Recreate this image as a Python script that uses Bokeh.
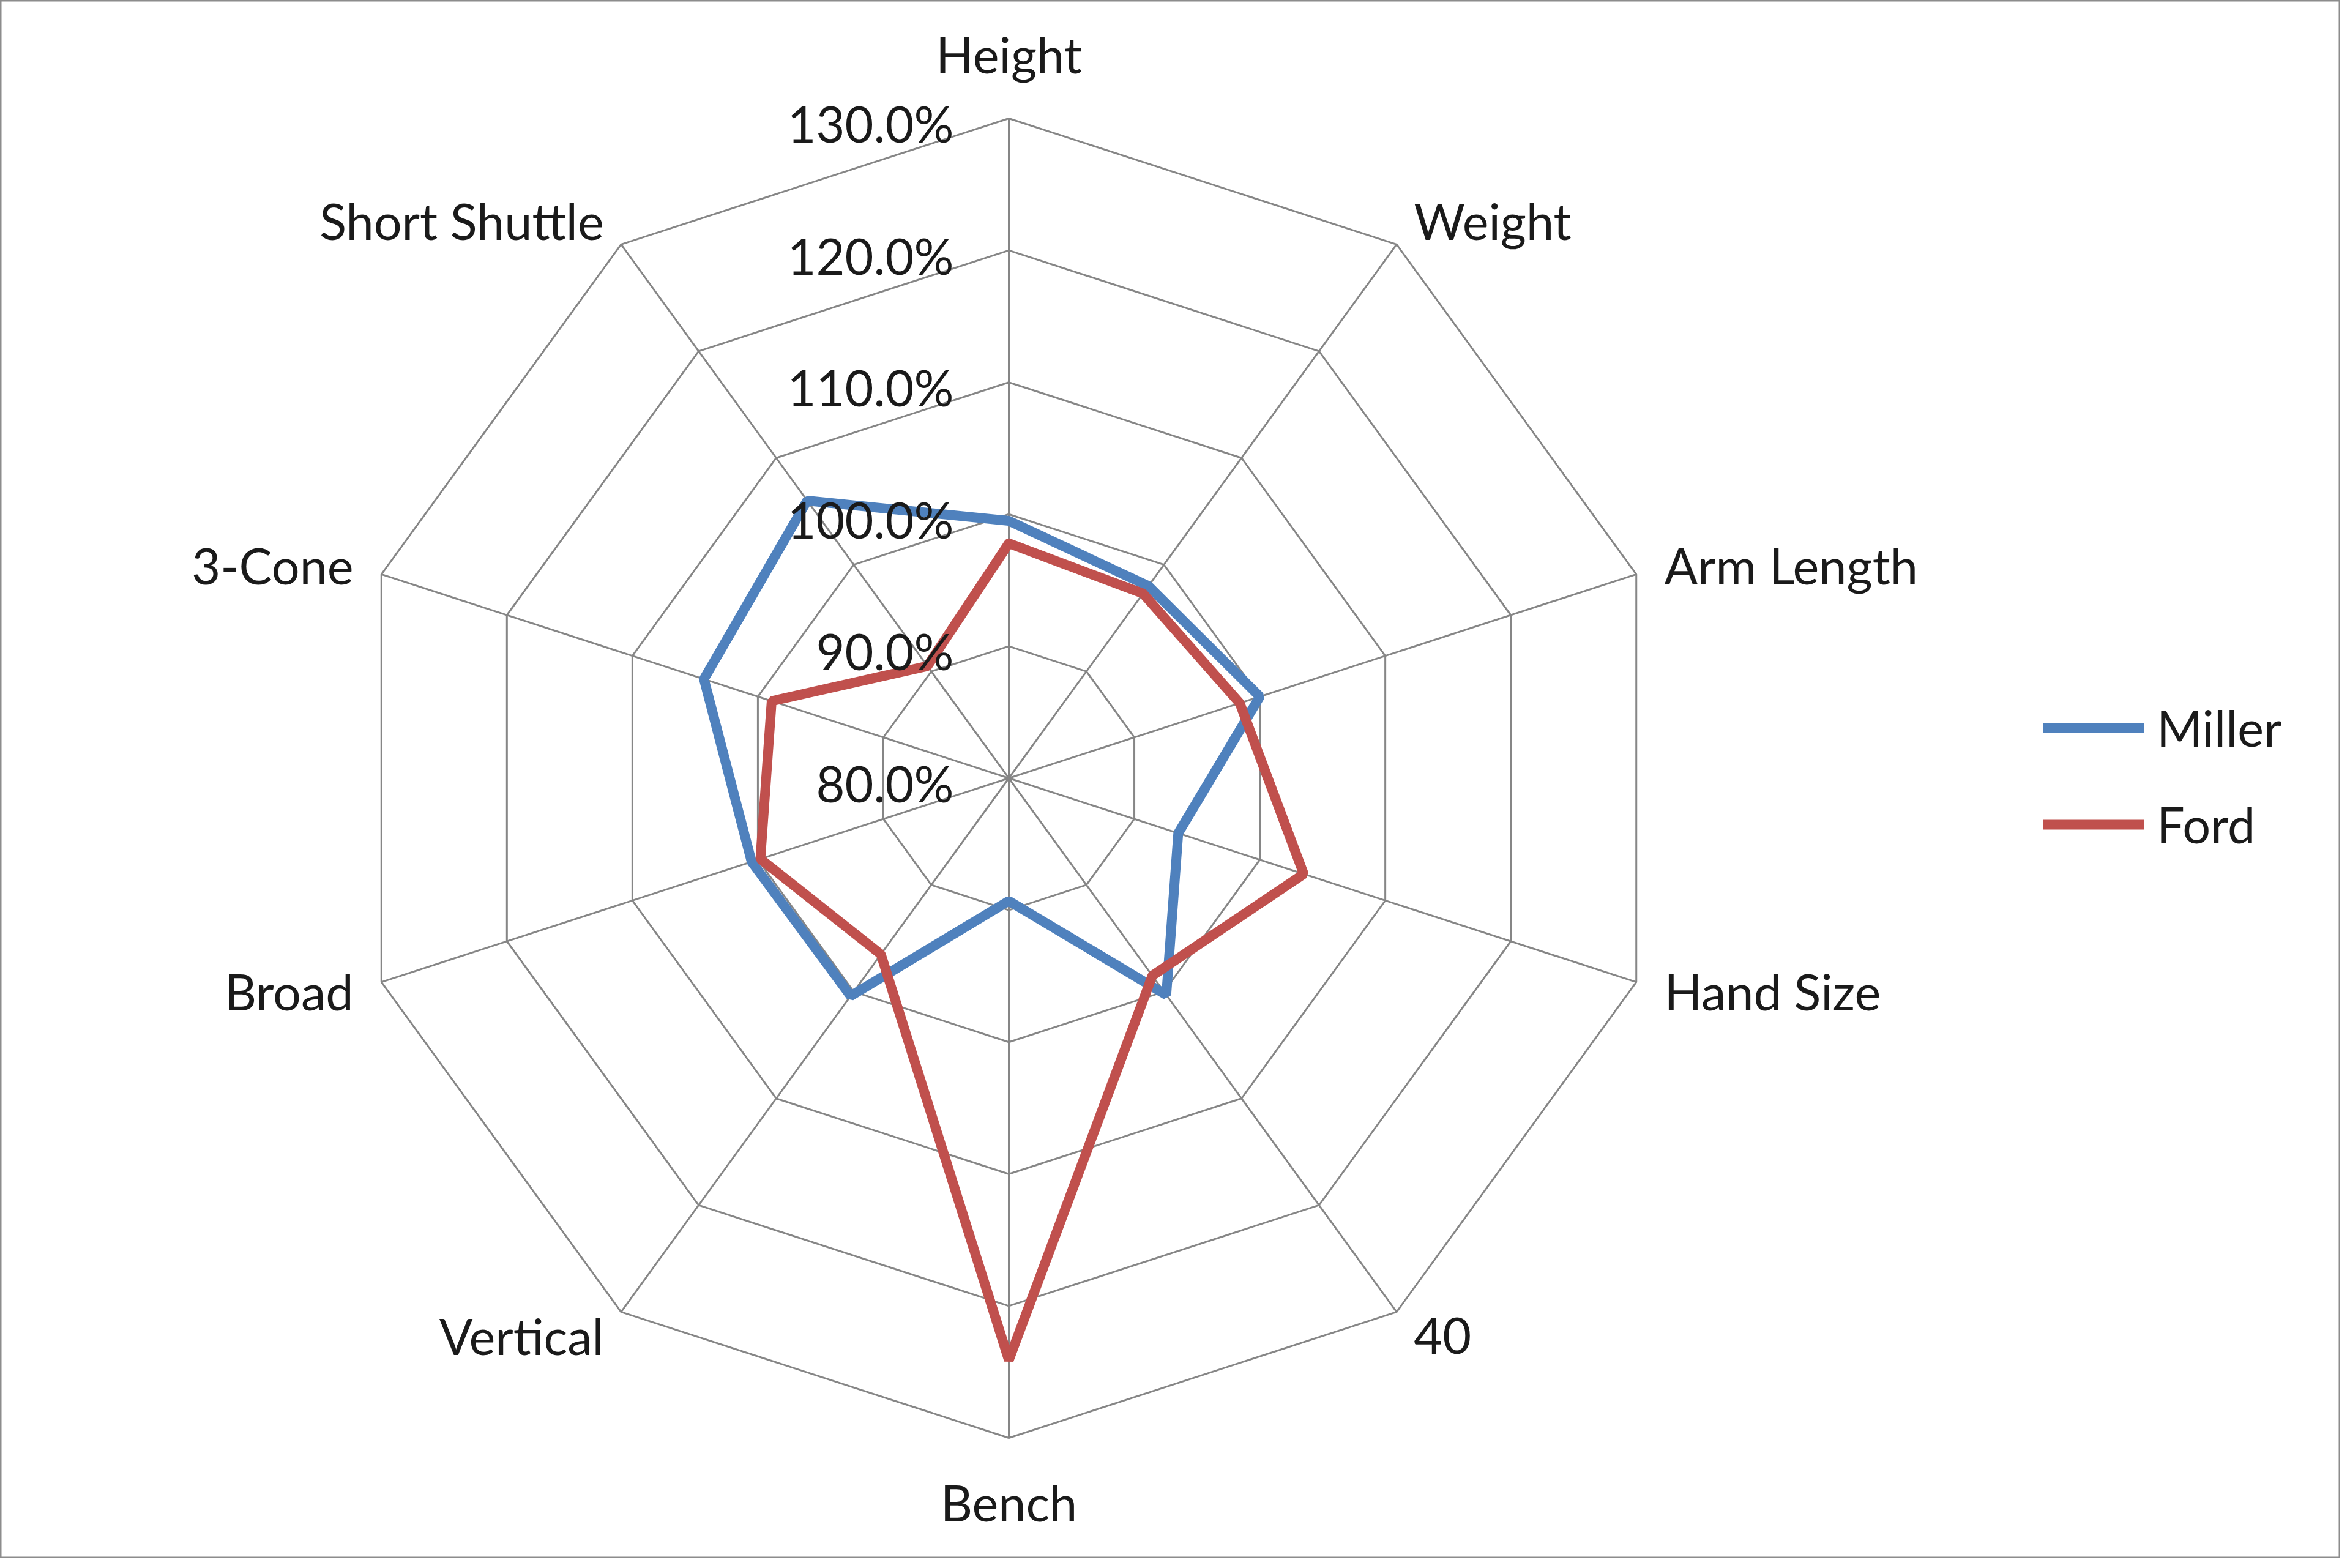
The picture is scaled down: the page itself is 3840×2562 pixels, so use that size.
import numpy as np
from bokeh.plotting import figure
from bokeh.models import Range1d, Legend, LegendItem
from bokeh.core.properties import value
from bokeh.embed import file_html
from bokeh.resources import INLINE

# data (percent)
categories = ["Height", "Weight", "Arm Length", "Hand Size", "40", "Bench",
              "Vertical", "Broad", "3-Cone", "Short Shuttle"]
miller = [99.5, 98.0, 100.0, 93.5, 100.3, 89.3, 100.4, 100.5, 104.3, 106.0]
ford = [97.8, 97.3, 98.4, 103.5, 98.5, 124.1, 96.5, 99.8, 98.9, 90.5]
ticks = [80, 90, 100, 110, 120, 130]
tick_labels = ["80.0%", "90.0%", "100.0%", "110.0%", "120.0%", "130.0%"]

FONT = value("Lato")
FSIZE = "81px"
W, H = 3824, 2546
scale = 21.56            # px per percent point
cx, cy = 1648, 1271      # centre of the radar, px from top-left
r0 = ticks[0]
rmax = ticks[-1] - r0

p = figure(width=W, height=H, output_backend="svg", toolbar_location=None,
           x_axis_location=None, y_axis_location=None, min_border=0,
           x_range=Range1d(-cx / scale, (W - cx) / scale),
           y_range=Range1d(-(H - cy) / scale, cy / scale))
p.grid.visible = False
p.outline_line_color = "#8c8c8c"
p.outline_line_width = 4

n = len(categories)
theta = np.arange(n) * 2 * np.pi / n
sx, sy = np.sin(theta), np.cos(theta)

def polar(vals):
    r = np.asarray(vals, dtype=float) - r0
    x = list(r * sx) + [r[0] * sx[0]]
    y = list(r * sy) + [r[0] * sy[0]]
    return x, y

# web grid
grid_col = "#868686"
p.multi_line([[0, rmax * a] for a in sx], [[0, rmax * b] for b in sy],
             line_color=grid_col, line_width=3)
ring_x, ring_y = [], []
for t in ticks[1:]:
    x, y = polar([t] * n)
    ring_x.append(x)
    ring_y.append(y)
p.multi_line(ring_x, ring_y, line_color=grid_col, line_width=3)

# series
mx, my = polar(miller)
fx, fy = polar(ford)
r_m = p.line(mx, my, line_color="#4f81bd", line_width=16, line_cap="round")
r_f = p.line(fx, fy, line_color="#c0504d", line_width=16, line_cap="round")

# radial tick labels
p.text(x=[0] * len(ticks), y=[t - r0 for t in ticks], text=tick_labels,
       x_offset=-90, y_offset=8, text_align="right", text_baseline="middle",
       text_font=FONT, text_font_size=FSIZE, text_color="#1a1a1a")

# category labels
groups = {"left": [], "right": [], "center": []}
for i, c in enumerate(categories):
    if abs(sx[i]) < 0.01:
        rl = rmax + 105 / scale
        groups["center"].append((rl * sx[i], rl * sy[i], c))
    else:
        rl = rmax + 48 / scale
        groups["left" if sx[i] > 0 else "right"].append((rl * sx[i], rl * sy[i], c))
for align, items in groups.items():
    p.text(x=[a for a, _, _ in items], y=[b for _, b, _ in items],
           text=[t for _, _, t in items], text_align=align, text_baseline="middle",
           text_font=FONT, text_font_size=FSIZE, text_color="#1a1a1a")

legend = Legend(items=[LegendItem(label="Miller", renderers=[r_m]),
                       LegendItem(label="Ford", renderers=[r_f])],
                location=(3339, 1151), glyph_width=165, glyph_height=80,
                label_height=80, label_standoff=20, spacing=61, padding=0,
                margin=0, border_line_color=None, background_fill_alpha=0,
                label_text_font="Lato", label_text_font_size=FSIZE,
                label_text_color="#1a1a1a")
p.add_layout(legend)

open("out.html", "w").write(file_html(p, INLINE))
